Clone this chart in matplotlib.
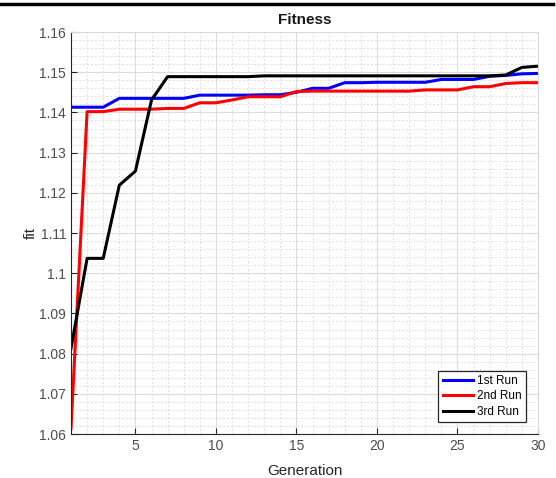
import numpy as np
import matplotlib.pyplot as plt
from matplotlib.ticker import MultipleLocator, FuncFormatter
from matplotlib.lines import Line2D

# Best fitness per generation for three runs
generations = list(range(1, 31))
run1 = [1.1413, 1.1413, 1.1413, 1.1435, 1.1435, 1.1435, 1.1435, 1.1435, 1.1443, 1.1443,
        1.1443, 1.1443, 1.1444, 1.1444, 1.1450, 1.1460, 1.1460, 1.1474, 1.1474, 1.1475,
        1.1475, 1.1475, 1.1475, 1.1482, 1.1482, 1.1482, 1.1490, 1.1492, 1.1496, 1.1497]
run2 = [1.0614, 1.1402, 1.1402, 1.1408, 1.1408, 1.1408, 1.1410, 1.1410, 1.1424, 1.1424,
        1.1431, 1.1439, 1.1439, 1.1439, 1.1452, 1.1453, 1.1453, 1.1453, 1.1453, 1.1453,
        1.1453, 1.1453, 1.1456, 1.1456, 1.1456, 1.1464, 1.1464, 1.1472, 1.1474, 1.1474]
run3 = [1.0813, 1.1037, 1.1037, 1.1219, 1.1254, 1.1431, 1.1489, 1.1489, 1.1489, 1.1489,
        1.1489, 1.1489, 1.1491, 1.1491, 1.1491, 1.1491, 1.1491, 1.1491, 1.1491, 1.1491,
        1.1491, 1.1491, 1.1491, 1.1491, 1.1491, 1.1491, 1.1491, 1.1493, 1.1512, 1.1515]
labels = ['1st Run', '2nd Run', '3rd Run']
colors = ['#0000ff', '#ff0000', '#000000']

plt.rcParams['font.family'] = ['Liberation Sans', 'DejaVu Sans']

fig = plt.figure(figsize=(5.56, 4.78), dpi=100)
ax = fig.add_axes([0.1277, 0.092, 0.8399, 0.841])

for y, lab, c in zip([run1, run2, run3], labels, colors):
    ax.plot(generations, y, color=c, lw=2.2, label=lab)

ax.set_xlim(1, 30)
ax.set_ylim(1.06, 1.16)
ax.set_xticks([5, 10, 15, 20, 25, 30])
ax.xaxis.set_minor_locator(MultipleLocator(1))
ax.yaxis.set_major_locator(MultipleLocator(0.01))
ax.yaxis.set_minor_locator(MultipleLocator(0.002))
ax.yaxis.set_major_formatter(FuncFormatter(lambda v, p: ('%.2f' % v).rstrip('0')))

ax.grid(True, which='major', color='#dcdcdc', lw=0.8)
ax.grid(True, which='minor', color='#dedede', lw=0.7, ls=(0, (2, 2)))
ax.set_axisbelow(True)

ax.tick_params(which='both', direction='in', colors='#262626', labelcolor='#4d4d4d',
               labelsize=10, top=False, right=False)
ax.tick_params(which='major', length=4)
ax.tick_params(which='minor', length=0)
for s in ['left', 'bottom']:
    ax.spines[s].set_color('#262626')
for s in ['top', 'right']:
    ax.spines[s].set_color('#d9d9d9')

ax.set_title('Fitness', fontsize=11, fontweight='bold', color='#1a1a1a', pad=6)
ax.set_xlabel('Generation', fontsize=11, color='#262626', labelpad=8)
ax.set_ylabel('fit', fontsize=11, color='#262626', labelpad=1)

leg = ax.legend(loc='lower right', bbox_to_anchor=(0.986, 0.015), fontsize=8.5,
                fancybox=False, framealpha=1, edgecolor='#262626',
                handlelength=2.6, borderpad=0.35, labelspacing=0.3, handletextpad=0.3)
leg.get_frame().set_linewidth(0.9)

# dark border line across the top of the screenshot
fig.add_artist(Line2D([0.0, 0.995], [0.992, 0.992], color='black', lw=2.5,
                      transform=fig.transFigure))

fig.savefig('out.png', dpi=100, facecolor='white')
